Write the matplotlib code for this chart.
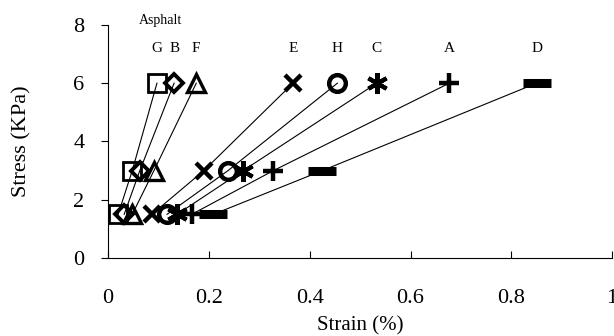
import matplotlib.pyplot as plt

plt.rcParams['font.family'] = ['Liberation Serif', 'DejaVu Serif']

stress = [1.5, 3, 6]

materials = ["A", "B", "C", "D", "E", "F", "G", "H"]
strain_A = [0.166, 0.328, 0.677]
strain_B = [0.032, 0.063, 0.131]
strain_C = [0.137, 0.268, 0.533]
strain_D = [0.209, 0.425, 0.850]
strain_E = [0.087, 0.190, 0.367]
strain_F = [0.048, 0.091, 0.175]
strain_G = [0.020, 0.048, 0.097]
strain_H = [0.117, 0.238, 0.455]
strains = [strain_A, strain_B, strain_C, strain_D, strain_E, strain_F, strain_G, strain_H]

# marker, size, edge width
styles = {
    "A": ("+", 14, 3.2),
    "B": ("D", 9, 2.8),
    "C": ((6, 2, 0), 15, 3.0),
    "D": ("_", 20, 6.5),
    "E": ("x", 12, 3.2),
    "F": ("^", 13, 2.4),
    "G": ("s", 13, 2.0),
    "H": ("o", 12, 3.2),
}

fig = plt.figure(figsize=(6.14, 3.36), dpi=100)
ax = fig.add_axes([0.176, 0.232, 0.821, 0.694])

for name, xs in zip(materials, strains):
    m, ms, mew = styles[name]
    ax.plot(xs, stress, color='black', lw=0.8, marker=m, ms=ms, mew=mew,
            mfc='none', mec='black', zorder=3)
    ax.text(xs[-1], 7.2, name, ha='center', va='center', fontsize=11)

ax.text(0.103, 8.15, "Asphalt", ha='center', va='center', fontsize=10, clip_on=False)

ax.set_xlim(0, 1.0)
ax.set_ylim(0, 8)
ax.set_xticks([0, 0.2, 0.4, 0.6, 0.8, 1.0])
ax.set_xticklabels(["0", "0.2", "0.4", "0.6", "0.8", "1"])
ax.set_yticks([0, 2, 4, 6, 8])
ax.spines['top'].set_visible(False)
ax.spines['right'].set_visible(False)
ax.spines['left'].set_linewidth(0.8)
ax.spines['bottom'].set_linewidth(0.8)
ax.tick_params(axis='x', direction='in', length=5, labelsize=16, pad=22)
ax.tick_params(axis='y', direction='out', length=5, labelsize=16, pad=12)
ax.set_xlabel("Strain (%)", fontsize=15, labelpad=6)
ax.set_ylabel("Stress (KPa)", fontsize=16, labelpad=30)

fig.savefig("out.png", dpi=100)
